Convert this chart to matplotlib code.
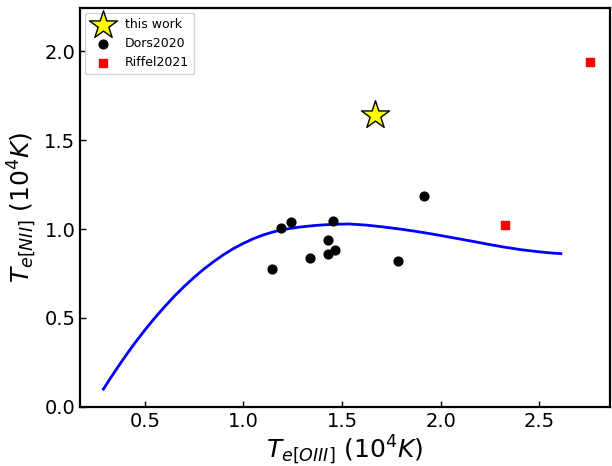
import matplotlib
matplotlib.use("Agg")
import matplotlib.pyplot as plt

# this work
star_x = [1.667]
star_y = [1.645]

# Dors2020
dors_x = [1.146, 1.192, 1.241, 1.336, 1.427, 1.427, 1.456, 1.465, 1.786, 1.918]
dors_y = [0.776, 1.004, 1.042, 0.838, 0.939, 0.862, 1.044, 0.883, 0.818, 1.189]

# Riffel2021
riffel_x = [2.325, 2.757]
riffel_y = [1.024, 1.940]

# relation curve
curve_x = [0.29, 0.33, 0.37, 0.41, 0.45, 0.50, 0.55, 0.60, 0.65, 0.70, 0.75,
           0.80, 0.85, 0.90, 0.95, 1.00, 1.05, 1.10, 1.15, 1.198, 1.28, 1.367,
           1.45, 1.535, 1.62, 1.704, 1.79, 1.872, 1.96, 2.04, 2.16, 2.24,
           2.327, 2.41, 2.495, 2.56, 2.61]
curve_y = [0.100, 0.169, 0.235, 0.299, 0.360, 0.432, 0.500, 0.563, 0.623, 0.678,
           0.729, 0.776, 0.818, 0.857, 0.891, 0.920, 0.946, 0.967, 0.984, 0.997,
           1.011, 1.021, 1.027, 1.029, 1.023, 1.013, 1.001, 0.988, 0.972, 0.956,
           0.932, 0.915, 0.898, 0.884, 0.873, 0.866, 0.862]

fig = plt.figure(figsize=(6.12, 4.66), dpi=100)
ax = fig.add_axes([0.131, 0.127, 0.866, 0.856])

ax.plot(curve_x, curve_y, color='blue', lw=2)
ax.scatter(star_x, star_y, marker='*', s=450, color='yellow', edgecolor='black',
           linewidth=1, label='this work', zorder=3)
ax.scatter(dors_x, dors_y, marker='o', s=40, color='black', label='Dors2020', zorder=3)
ax.scatter(riffel_x, riffel_y, marker='s', s=30, color='red', label='Riffel2021', zorder=3)

ax.set_xlim(0.172, 2.86)
ax.set_ylim(0.0, 2.245)
ax.set_xticks([0.5, 1.0, 1.5, 2.0, 2.5])
ax.set_yticks([0.0, 0.5, 1.0, 1.5, 2.0])
ax.tick_params(direction='in', labelsize=14, width=1, length=4)
for s in ax.spines.values():
    s.set_linewidth(1.6)

ax.set_xlabel(r'$T_{e[OIII]}\ (10^4K)$', fontsize=18, labelpad=2)
ax.set_ylabel(r'$T_{e[NII]}\ (10^4K)$', fontsize=18)

ax.legend(loc='upper left', fontsize=9, borderaxespad=0.4)

fig.savefig('out.png', dpi=100)
